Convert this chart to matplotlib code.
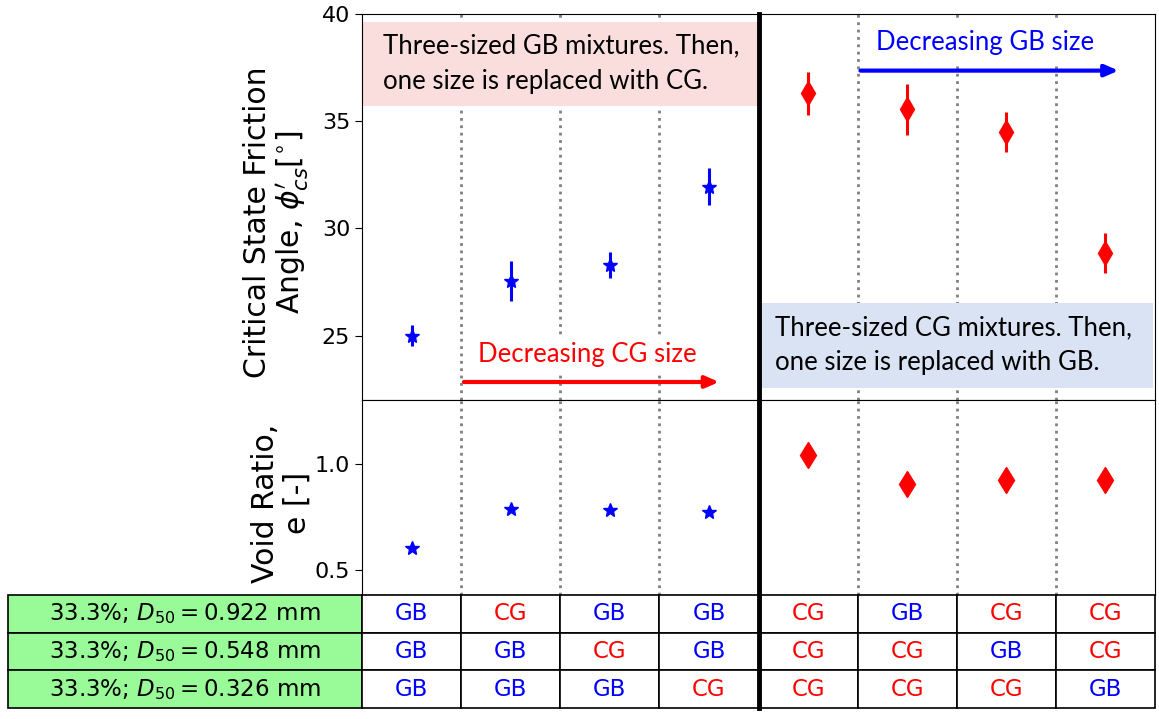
import numpy as np
import matplotlib.pyplot as plt
from matplotlib.patches import Rectangle
from matplotlib.lines import Line2D
import matplotlib.transforms as mtransforms

# friction angle (deg) and void ratio for the eight mixtures
gb_pos = [0, 1, 2, 3]
cg_pos = [4, 5, 6, 7]
phi_gb = [25.0, 27.55, 28.3, 31.95]
phi_gb_err = [0.5, 0.92, 0.62, 0.88]
phi_cg = [36.3, 35.55, 34.5, 28.85]
phi_cg_err = [1.0, 1.18, 0.95, 0.93]
e_gb = [0.604, 0.79, 0.782, 0.773]
e_cg = [1.043, 0.908, 0.924, 0.924]

row_labels = [r'33.3%; $D_{50}=0.922$ mm',
              r'33.3%; $D_{50}=0.548$ mm',
              r'33.3%; $D_{50}=0.326$ mm']
materials = [['GB', 'CG', 'GB', 'GB', 'CG', 'GB', 'CG', 'CG'],
             ['GB', 'GB', 'CG', 'GB', 'CG', 'CG', 'GB', 'CG'],
             ['GB', 'GB', 'GB', 'CG', 'CG', 'CG', 'CG', 'GB']]

W, H = 1159, 719
fig = plt.figure(figsize=(W / 100, H / 100), dpi=100)
ax1 = fig.add_axes([362 / W, 1 - 400 / H, 793 / W, 386 / H])
ax2 = fig.add_axes([362 / W, 1 - 595 / H, 793 / W, 195 / H])
axt = fig.add_axes([8 / W, 1 - 708 / H, 1147 / W, 113 / H])

for ax in (ax1, ax2):
    ax.set_xlim(-0.5, 7.5)
    ax.set_xticks([])
    for xv in [0.5, 1.5, 2.5, 4.5, 5.5, 6.5]:
        ax.axvline(xv, color='gray', ls=':', lw=2, zorder=1)
    ax.tick_params(axis='y', labelsize=16, length=5)

ax1.set_ylim(22, 40)
ax1.set_yticks([25, 30, 35, 40])
ax2.set_ylim(0.385, 1.3)
ax2.set_yticks([0.5, 1.0])

ax1.errorbar(gb_pos, phi_gb, yerr=phi_gb_err, fmt='*', color='b', ms=10,
             elinewidth=2.2, capsize=0, zorder=4)
ax1.errorbar(cg_pos, phi_cg, yerr=phi_cg_err, fmt='d', color='r', ms=12,
             elinewidth=2.2, capsize=0, zorder=4)
ax2.plot(gb_pos, e_gb, '*', color='b', ms=10, zorder=4)
ax2.plot(cg_pos, e_cg, 'd', color='r', ms=13, zorder=4)

ax1.set_ylabel('Critical State Friction\nAngle, $\\phi^{\\prime}_{cs}$[$^{\\circ}$]',
               fontsize=21.5, linespacing=1.1)
ax2.set_ylabel('Void Ratio,\ne [-]', fontsize=21.5, linespacing=1.1)
ax1.yaxis.set_label_coords(-0.064, 0.46)
ax2.yaxis.set_label_coords(-0.064, 0.47)

# annotation boxes
ax1.add_patch(Rectangle((-0.5, 35.69), 4.0, 3.96, facecolor='#fadede',
                        edgecolor='none', zorder=2))
ax1.text(-0.29, 37.68, 'Three-sized GB mixtures. Then,\none size is replaced with CG.',
         fontsize=18.5, family='Lato', va='center', ha='left', linespacing=1.5, zorder=3)
ax1.add_patch(Rectangle((3.5, 22.58), 3.98, 3.96, facecolor='#dae3f3',
                        edgecolor='none', zorder=2))
ax1.text(3.67, 24.57, 'Three-sized CG mixtures. Then,\none size is replaced with GB.',
         fontsize=18.5, family='Lato', va='center', ha='left', linespacing=1.5, zorder=3)

ax1.annotate('', xy=(3.13, 22.84), xytext=(0.5, 22.84),
             arrowprops=dict(arrowstyle='-|>,head_length=0.8,head_width=0.35',
                             color='r', lw=3), zorder=3)
ax1.text(1.77, 24.13, 'Decreasing CG size', color='r', fontsize=18.5, family='Lato',
         ha='center', va='center', zorder=3,
         bbox=dict(facecolor='white', edgecolor='none', pad=4))
ax1.annotate('', xy=(7.16, 37.36), xytext=(4.5, 37.36),
             arrowprops=dict(arrowstyle='-|>,head_length=0.8,head_width=0.35',
                             color='b', lw=3), zorder=3)
ax1.text(5.79, 38.65, 'Decreasing GB size', color='b', fontsize=18.5, family='Lato',
         ha='center', va='center', zorder=3,
         bbox=dict(facecolor='white', edgecolor='none', pad=6))

# composition table
axt.axis('off')
cells = [[lab] + row for lab, row in zip(row_labels, materials)]
col_w = [354 / 1147] + [99.125 / 1147] * 8
tab = axt.table(cellText=cells, colWidths=col_w, bbox=[0, 0, 1, 1], cellLoc='center')
tab.auto_set_font_size(False)
tab.set_fontsize(16.5)
for (r, c), cell in tab.get_celld().items():
    cell.set_linewidth(1.2)
    if c == 0:
        cell.set_facecolor('#98fb98')
    else:
        cell.get_text().set_color('b' if cells[r][c] == 'GB' else 'r')

# thick separator between the two groups
trans = mtransforms.blended_transform_factory(ax1.transData, fig.transFigure)
fig.add_artist(Line2D([3.5, 3.5], [1 - 708 / H, 1 - 14 / H], color='k', lw=3.5,
                      transform=trans, zorder=10))

plt.savefig('out.png', dpi=100)
